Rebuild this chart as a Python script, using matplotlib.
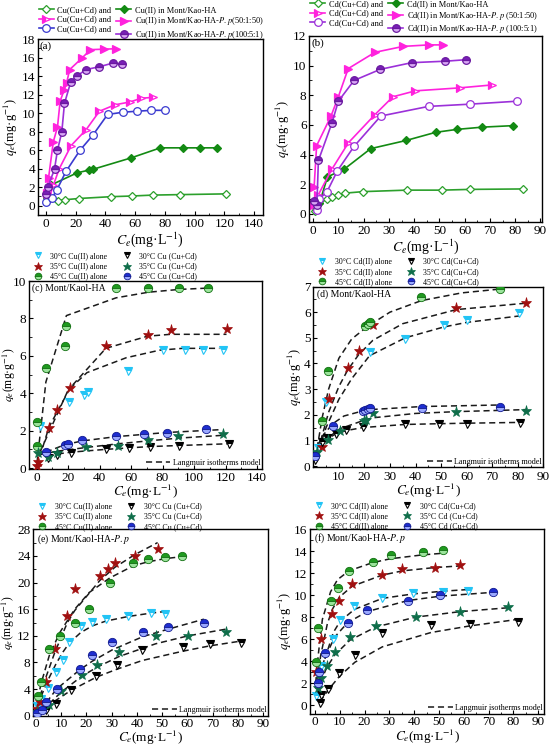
import matplotlib
matplotlib.use('Agg')
import matplotlib.pyplot as plt
from matplotlib.ticker import AutoMinorLocator

plt.rcParams['font.family'] = ['Liberation Serif', 'DejaVu Serif']
plt.rcParams['mathtext.fontset'] = 'stix'
plt.rcParams['axes.linewidth'] = 1.0

# ---------------- Panel (a): Cu ----------------
a1_x = [1, 8, 13, 22, 44, 58, 72, 90, 121]
a1_y = [0.85, 0.55, 0.65, 0.78, 0.98, 1.05, 1.15, 1.2, 1.28]
a2_x = [1, 3.6, 21, 29, 32, 57, 77, 92, 103.5, 115]
a2_y = [1.0, 2.25, 3.55, 3.85, 3.95, 5.15, 6.25, 6.25, 6.25, 6.25]
a3_x = [1.5, 5, 9, 17, 27, 36, 46.5, 56.5, 64, 72]
a3_y = [0.5, 2.2, 4.0, 6.5, 8.2, 10.2, 10.9, 11.2, 11.6, 11.7]
a4_x = [0.5, 1.8, 5, 7.8, 9.6, 12.3, 14, 16, 24, 30, 39, 47]
a4_y = [1.4, 3.0, 6.9, 8.5, 11.3, 12.5, 13.3, 14.7, 15.9, 16.85, 16.9, 16.95]
a5_x = [0.3, 4, 7.5, 13.5, 23, 31.5, 41.5, 52, 61, 71, 80]
a5_y = [0.4, 0.8, 1.75, 3.7, 6.0, 7.6, 9.85, 10.1, 10.2, 10.3, 10.3]
a6_x = [0, 1.3, 5.8, 7.8, 10.7, 12.5, 16.8, 20.8, 27, 35.8, 45, 51]
a6_y = [1.3, 2.0, 3.95, 6.0, 7.95, 11.05, 13.4, 14.0, 14.7, 15.0, 15.4, 15.3]
a_labels = ['Cu(Cu+Cd) and', 'Cu(II) in Mont/Kao-HA',
            'Cu(Cu+Cd) and', 'Cu(II) in Mont/Kao-HA-$P.p$(50:1:50)',
            'Cu(Cu+Cd) and', 'Cu(II) in Mont/Kao-HA-$P.p$(100:5:1)']

# ---------------- Panel (b): Cd ----------------
b1_x = [0.8, 2.5, 5.4, 7.4, 9.7, 12.8, 19.9, 37, 51, 62, 83]
b1_y = [0.2, 0.72, 0.97, 1.13, 1.24, 1.4, 1.5, 1.6, 1.6, 1.65, 1.68]
b2_x = [1, 2.5, 5.7, 12.2, 22.8, 36.8, 48.5, 57, 67, 79]
b2_y = [0.4, 0.7, 2.5, 3.0, 4.4, 4.95, 5.5, 5.7, 5.85, 5.95]
b3_x = [0.5, 2.1, 7.4, 14, 24.5, 31.6, 40.5, 58, 71]
b3_y = [0.6, 1.3, 3.0, 4.8, 6.7, 7.9, 8.3, 8.5, 8.7]
b4_x = [0.4, 1.4, 7.1, 10, 13.9, 24.5, 35.7, 45.9, 51.6]
b4_y = [1.8, 4.6, 6.6, 7.9, 9.8, 10.9, 11.3, 11.4, 11.4]
b5_x = [1.5, 2.2, 5.4, 9.6, 16.2, 26.8, 45.7, 62, 80.7]
b5_y = [0.25, 1.0, 1.45, 2.9, 4.55, 6.6, 7.25, 7.4, 7.6]
b6_x = [0.4, 1.5, 2.1, 7.4, 10, 16.2, 26.6, 39, 52.4, 60.5]
b6_y = [0.85, 0.6, 3.6, 6.1, 7.6, 9.0, 9.75, 10.2, 10.3, 10.4]
b_labels = ['Cd(Cu+Cd) and', 'Cd(II) in Mont/Kao-HA',
            'Cd(Cu+Cd) and', 'Cd(II) in Mont/Kao-HA-$P.p$ (50:1:50)',
            'Cd(Cu+Cd) and', 'Cd(II) in Mont/Kao-HA-$P.p$ (100:5:1)']

# ---------------- Panel (c): Cu, Mont/Kaol-HA ----------------
c30a_x = [2.5, 20.5, 30, 32.5, 58, 80, 94, 105.5, 118]
c30a_y = [2.25, 3.55, 3.9, 4.05, 5.2, 6.3, 6.3, 6.3, 6.3]
c35a_x = [0.3, 1, 8, 13, 21.5, 44, 70.5, 85, 120.5]
c35a_y = [0.1, 0.35, 2.15, 3.1, 4.3, 6.5, 7.1, 7.4, 7.45]
c45a_x = [0.4, 0.6, 6, 18, 19, 50.5, 71, 90.5, 108.5]
c45a_y = [1.2, 2.45, 5.35, 6.5, 7.6, 9.65, 9.65, 9.6, 9.65]
c30b_x = [7.5, 13, 22, 44, 58.5, 72, 90.5, 122]
c30b_y = [0.55, 0.68, 0.78, 1.0, 1.08, 1.15, 1.2, 1.3]
c35b_x = [1, 7.4, 13, 31.5, 52, 70.5, 90, 118]
c35b_y = [0.8, 0.58, 0.78, 1.1, 1.17, 1.5, 1.7, 1.8]
c45b_x = [6, 18, 20, 29, 50.5, 68, 82.5, 107.5]
c45b_y = [0.85, 1.25, 1.3, 1.5, 1.72, 1.8, 1.9, 2.1]
# Langmuir model lines
c30a_fx = [2.5, 20, 32, 57, 78, 92.5, 116]
c30a_fy = [0.9, 4.15, 5.1, 5.9, 6.3, 6.4, 6.4]
c35a_fx = [0.3, 8, 21.5, 44, 70.5, 85, 120.5]
c35a_fy = [0.1, 2.2, 4.3, 6.4, 7.05, 7.15, 7.15]
c45a_fx = [0.4, 6, 19, 50.5, 71, 90.5, 108.5]
c45a_fy = [0.3, 4.6, 8.15, 9.1, 9.4, 9.55, 9.62]
c30b_fx = [7.5, 13, 22, 44, 72, 122]
c30b_fy = [0.6, 0.75, 0.85, 1.0, 1.15, 1.3]
c35b_fx = [1, 13, 31.5, 52, 70.5, 90, 118]
c35b_fy = [0.7, 0.9, 1.1, 1.3, 1.45, 1.6, 1.75]
c45b_fx = [6, 18, 29, 50.5, 82.5, 116]
c45b_fy = [0.85, 1.25, 1.45, 1.68, 1.9, 2.05]

# ---------------- Panel (d): Cd, Mont/Kaol-HA ----------------
d30a_x = [0.6, 1.8, 5, 22, 36, 51, 60, 80.5]
d30a_y = [0.3, 0.7, 2.5, 4.45, 4.95, 5.5, 5.7, 5.97]
d35a_x = [3.5, 6.1, 13.5, 17.8, 23.3, 56, 83.2]
d35a_y = [0.75, 2.6, 3.82, 4.47, 5.5, 6.18, 6.35]
d45a_x = [3.5, 5.8, 20.2, 21.3, 22.2, 42.3, 73]
d45a_y = [1.75, 3.7, 5.45, 5.55, 5.62, 6.6, 6.9]
d30b_x = [0.5, 3.5, 5.4, 8.7, 12.8, 19.4, 35.8, 49.3, 60, 80.7]
d30b_y = [0.22, 0.93, 1.1, 1.26, 1.39, 1.52, 1.62, 1.62, 1.65, 1.68]
d35b_x = [1.3, 5.7, 10.4, 19.7, 20.7, 23.3, 55.8, 83.2]
d35b_y = [0.55, 1.03, 1.35, 1.75, 1.8, 2.05, 2.1, 2.15]
d45b_x = [0.5, 7.6, 19.4, 20.4, 21.5, 22.3, 42.5, 73]
d45b_y = [0.38, 1.55, 2.14, 2.2, 2.23, 2.26, 2.26, 2.3]
d30a_fx = [1, 3, 5, 10, 15, 22, 36, 51, 60, 80.5]
d30a_fy = [0.3, 0.9, 1.5, 2.6, 3.4, 4.3, 5.0, 5.42, 5.6, 5.85]
d35a_fx = [2, 3.5, 6, 10, 13.5, 17.8, 23.3, 35, 56, 83.2]
d35a_fy = [0.6, 1.2, 2.1, 3.1, 3.75, 4.35, 4.9, 5.55, 6.1, 6.35]
d45a_fx = [1.5, 3.5, 6, 10, 15, 21.3, 30, 42.3, 58, 73]
d45a_fy = [0.7, 1.9, 3.0, 4.2, 4.95, 5.45, 6.0, 6.45, 6.75, 6.9]
d30b_fx = [0.5, 3.5, 5.4, 8.7, 12.8, 19.4, 35.8, 49.3, 60, 80.7]
d30b_fy = [0.25, 0.85, 1.05, 1.25, 1.38, 1.5, 1.62, 1.65, 1.67, 1.7]
d35b_fx = [1.3, 5.7, 10.4, 19.7, 23.3, 40, 55.8, 83.2]
d35b_fy = [0.55, 1.1, 1.45, 1.78, 1.88, 2.05, 2.12, 2.2]
d45b_fx = [0.5, 3, 7.6, 12, 19.4, 22.3, 42.5, 73]
d45b_fy = [0.4, 1.1, 1.65, 1.95, 2.15, 2.2, 2.32, 2.38]

# ---------------- Panel (e): Cu, Mont/Kaol-HA-P.p ----------------
e30a_x = [0.5, 2, 5, 8, 10.8, 13.2, 17.8, 22.4, 27.6, 36.5, 45.4, 51]
e30a_y = [1.5, 2.5, 4.2, 6.5, 8.4, 11.0, 13.4, 14.1, 14.6, 15.0, 15.4, 15.3]
e35a_x = [0.5, 1.8, 4.2, 7.5, 12.5, 15.4, 25.3, 28.4, 31.3, 39.2, 48.2]
e35a_y = [1.0, 2.0, 5.0, 10.0, 15.0, 19.0, 21.0, 22.0, 23.0, 24.0, 25.0]
e45a_x = [0.7, 2.2, 5.3, 9.5, 15.4, 21.1, 29.3, 38.5, 44.2, 51.3, 58]
e45a_y = [3.0, 5.0, 10.0, 12.0, 14.0, 16.0, 20.0, 23.0, 23.5, 23.9, 24.0]
e30b_x = [0.5, 4.2, 7.9, 13.9, 24, 32.2, 42.2, 58.3, 69, 81]
e30b_y = [0.3, 0.9, 1.8, 3.8, 6.0, 7.6, 9.9, 10.3, 10.8, 10.9]
e35b_x = [0.5, 5.3, 9.9, 18.1, 24.3, 33, 47.4, 60.3, 75.2]
e35b_y = [0.5, 1.6, 3.7, 6.1, 7.6, 9.5, 11.9, 12.0, 12.5]
e45b_x = [0.5, 2.5, 4.2, 8.2, 17.4, 22.4, 30.3, 42.5, 52.4, 66.5]
e45b_y = [0.35, 0.85, 2.0, 4.0, 7.05, 9.05, 11.05, 12.55, 13.35, 13.85]
e30a_fx = [0.5, 5, 8, 10.8, 13.2, 17.8, 22.4, 27.6, 36.5, 45.4, 51]
e30a_fy = [1.5, 5.5, 7.8, 9.6, 10.9, 12.5, 13.5, 14.2, 14.9, 15.4, 15.65]
e35a_fx = [0.5, 4.2, 7.5, 12.5, 15.4, 25.3, 31.3, 39.2, 48.2]
e35a_fy = [1.5, 6.0, 9.5, 14.0, 15.8, 20.3, 22.3, 24.2, 26.0]
e45a_fx = [0.7, 2.2, 5.3, 9.5, 15.4, 21.1, 29.3, 38.5, 44.2, 51.3, 58]
e45a_fy = [2.5, 5.0, 9.0, 12.5, 16.0, 18.5, 20.7, 22.5, 23.1, 23.6, 23.9]
e30b_fx = [4.2, 7.9, 13.9, 24, 32.2, 42.2, 58.3, 69, 81]
e30b_fy = [1.2, 2.3, 3.8, 5.8, 7.0, 8.3, 9.7, 10.5, 11.2]
e35b_fx = [5.3, 9.9, 18.1, 24.3, 33, 47.4, 60.3, 75.2]
e35b_fy = [1.8, 3.5, 5.9, 7.3, 8.9, 10.8, 12.0, 13.0]
e45b_fx = [4.2, 8.2, 17.4, 22.4, 30.3, 42.5, 52.4, 66.5]
e45b_fy = [2.0, 4.0, 6.9, 8.2, 9.9, 11.9, 13.0, 14.5]

# ---------------- Panel (f): Cd, Mont/Kaol-HA-P.p ----------------
f30a_x = [0.4, 2.3, 7.4, 10.1, 15.9, 27.2, 39.4, 51.5, 61.6]
f30a_y = [0.8, 3.6, 6.0, 7.7, 9.05, 9.75, 10.15, 10.25, 10.4]
f35a_x = [0.4, 2.3, 7, 9.8, 15, 26.9, 35.3, 48.4, 58.7]
f35a_y = [3.0, 6.0, 8.3, 9.5, 11.0, 11.8, 12.4, 12.5, 12.7]
f45a_x = [0.3, 1.3, 6.3, 9.1, 13.7, 23.3, 30.5, 43.4, 51.7]
f45a_y = [3.9, 7.0, 9.5, 10.6, 12.2, 13.0, 13.6, 13.9, 14.1]
f30b_x = [2, 2.4, 5.4, 9.8, 16.1, 27.2, 46.8, 62.5, 82]
f30b_y = [0.2, 0.95, 1.5, 2.9, 4.6, 6.6, 7.25, 7.4, 7.6]
f35b_x = [1.1, 2.3, 4.7, 8.1, 14.1, 24.5, 40.7, 58.7, 78]
f35b_y = [1.6, 2.5, 3.6, 4.8, 6.2, 7.2, 8.0, 8.5, 8.9]
f45b_x = [1.1, 1.6, 4, 13.2, 21.1, 37.4, 50.5, 71.9]
f45b_y = [2.0, 3.0, 4.7, 7.5, 8.6, 9.5, 10.0, 10.3]
f30a_fx = [0.4, 2.3, 7.4, 10.1, 15.9, 27.2, 39.4, 51.5, 61.6]
f30a_fy = [0.7, 3.0, 6.6, 7.6, 8.7, 9.7, 10.1, 10.35, 10.5]
f35a_fx = [0.4, 2.3, 5, 7, 9.8, 15, 26.9, 35.3, 48.4, 58.7]
f35a_fy = [1.5, 4.5, 7.4, 8.7, 9.8, 10.8, 11.8, 12.2, 12.5, 12.65]
f45a_fx = [0.3, 1.3, 3, 6.3, 9.1, 13.7, 23.3, 30.5, 43.4, 51.7]
f45a_fy = [2.0, 4.5, 7.8, 10.3, 11.4, 12.2, 12.95, 13.3, 13.65, 13.8]
f30b_fx = [2, 5.4, 9.8, 16.1, 27.2, 46.8, 62.5, 82]
f30b_fy = [0.3, 1.4, 2.6, 3.9, 5.3, 6.6, 7.2, 7.8]
f35b_fx = [1.1, 2.3, 4.7, 8.1, 14.1, 24.5, 40.7, 58.7, 78]
f35b_fy = [1.2, 2.1, 3.4, 4.6, 5.9, 7.1, 8.0, 8.5, 8.85]
f45b_fx = [1.1, 1.6, 4, 8, 13.2, 21.1, 37.4, 50.5, 71.9]
f45b_fy = [1.8, 2.5, 4.3, 6.2, 7.5, 8.5, 9.5, 9.9, 10.25]

cu_labels = ['30°C Cu(II) alone', '35°C Cu(II) alone', '45°C Cu(II) alone',
             '30°C Cu (Cu+Cd)', '35°C Cu (Cu+Cd)', '45°C Cu (Cu+Cd)']
cd_labels_d = ['30°C Cd(II) alone', '35°C Cd(II) alone', '45°C Cd(II) alone',
               '30°C Cd(Cu+Cd)', '35°C Cd(Cu+Cd)', '45°C Cd(Cu+Cd)']
cd_labels_f = ['30°C Cd(II) alone', '35°C Cd(II) alone', '45°C Cd(II) alone',
               '30°C Cd(Cu+Cd)', '35°C Cd (Cu+Cd)', '45°C Cd (Cu+Cd)']

W, H = 550, 747
fig = plt.figure(figsize=(W / 100, H / 100), dpi=100)


def add_ax(l, r, t, b):
    return fig.add_axes([l / W, 1 - b / H, (r - l) / W, (b - t) / H])


TICK_FS = 9.5
AB_LEG_FS = 6.0
CF_LEG_FS = 5.7

GREEN_O = '#2ca02c'
GREEN_F = '#138a13'
MAG = '#ff22dd'
BLUE = '#3a3ad0'
PURPLE = '#9b30d9'

ab_styles = [
    dict(color=GREEN_O, marker='D', mfc='white', mec=GREEN_O, ms=4.5),
    dict(color=GREEN_F, marker='D', mfc=GREEN_F, mec=GREEN_F, ms=4.5),
    dict(color=MAG, marker='>', mfc=MAG, mec=MAG, fillstyle='left', mfcalt='white', ms=5.5),
    dict(color=MAG, marker='>', mfc=MAG, mec=MAG, ms=5.5),
    dict(color=BLUE, marker='o', mfc='white', mec=BLUE, ms=5.5),
    dict(color=PURPLE, marker='o', mfc='#7a1fb8', mfcalt='#d9a8f5', fillstyle='top', mec='#6a1aa0', ms=5.5),
]


def style_axis(ax, xlim, ylim, xticks, yticks, xpad=2.5):
    ax.set_xlim(*xlim)
    ax.set_ylim(*ylim)
    ax.set_xticks(xticks)
    ax.set_yticks(yticks)
    ax.xaxis.set_minor_locator(AutoMinorLocator(2))
    ax.yaxis.set_minor_locator(AutoMinorLocator(2))
    ax.tick_params(which='major', direction='in', labelsize=TICK_FS, length=3, width=0.8)
    ax.tick_params(axis='x', which='major', pad=xpad)
    ax.tick_params(axis='y', which='major', pad=2)
    ax.tick_params(which='minor', direction='in', length=1.8, width=0.6)


def ab_panel(ax, series, labels, anchor_y=1.0, b_style_override=None):
    handles = []
    for i, (x, y) in enumerate(series):
        st = dict(ab_styles[i])
        if b_style_override and i in b_style_override:
            st.update(b_style_override[i])
        h, = ax.plot(x, y, lw=1.2, mew=0.9, **st)
        handles.append(h)
    order = [0, 2, 4, 1, 3, 5]
    leg = ax.legend([handles[k] for k in order], [labels[k] for k in order],
                    loc='lower left', bbox_to_anchor=(0.0, anchor_y), ncol=2, frameon=False,
                    fontsize=AB_LEG_FS, borderaxespad=0.0, borderpad=0.1,
                    handlelength=1.8, handletextpad=0.45, columnspacing=0.6,
                    labelspacing=0.2)
    return leg


# ---- (a)
axa = add_ax(37.7, 263, 39, 215)
ab_panel(axa, [(a1_x, a1_y), (a2_x, a2_y), (a3_x, a3_y), (a4_x, a4_y), (a5_x, a5_y), (a6_x, a6_y)], a_labels,
         anchor_y=0.983)
style_axis(axa, (-5.5, 146), (-1, 18), range(0, 141, 20), range(0, 19, 2))
axa.set_xlabel(r'$C_e$(mg·L$^{-1}$)', fontsize=10, labelpad=0)
axa.set_ylabel(r'$q_e$(mg·g$^{-1}$)', fontsize=9, labelpad=1)
axa.text(0.01, 0.985, '(a)', transform=axa.transAxes, fontsize=8, va='top', ha='left')

# ---- (b)
axb = add_ax(309.3, 541.7, 36, 222)
ab_panel(axb, [(b1_x, b1_y), (b2_x, b2_y), (b3_x, b3_y), (b4_x, b4_y), (b5_x, b5_y), (b6_x, b6_y)], b_labels,
         anchor_y=1.0, b_style_override={4: dict(color=PURPLE, mec=PURPLE)})
style_axis(axb, (-1.5, 90.5), (-0.55, 12), range(0, 91, 10), range(0, 13, 2))
axb.set_xlabel(r'$C_e$(mg·L$^{-1}$)', fontsize=10, labelpad=0)
axb.set_ylabel(r'$q_e$(mg·g$^{-1}$)', fontsize=9, labelpad=1)
axb.text(0.01, 0.985, '(b)', transform=axb.transAxes, fontsize=8, va='top', ha='left')

# ---- styles for c-f
LBLUE = '#22c4f5'
DRED = '#a01010'
GSPH = '#1f9a1f'
TEAL = '#0f6e4a'
BSPH = '#1e2ed0'
cf_styles = [
    dict(marker='v', mfc=LBLUE, mfcalt='white', fillstyle='top', mec=LBLUE, ms=6, mew=0.8),
    dict(marker='*', mfc=DRED, mec=DRED, ms=8, mew=0.5),
    dict(marker='o', mfc=GSPH, mfcalt='#9be39b', fillstyle='top', mec='#127012', ms=6, mew=0.6),
    dict(marker='v', mfc='black', mfcalt='white', fillstyle='top', mec='black', ms=6, mew=0.8),
    dict(marker='*', mfc=TEAL, mec=TEAL, ms=8, mew=0.5),
    dict(marker='o', mfc=BSPH, mfcalt='#9aa8ff', fillstyle='top', mec='#111a90', ms=6, mew=0.6),
]


def cf_panel(ax, pts, fits, labels, title, xlabelpad, ylabelpad, ylabel_fs, xlabel_fs=10, leg_y=1.0):
    for fx, fy in fits:
        ax.plot(fx, fy, ls=(0, (4, 2.5)), color='#1a1a1a', lw=1.1, zorder=2)
    handles = []
    for i, (x, y) in enumerate(pts):
        h, = ax.plot(x, y, ls='none', zorder=3, **cf_styles[i])
        handles.append(h)
    leg = ax.legend(handles, labels, loc='lower left', bbox_to_anchor=(0.015, leg_y), ncol=2,
                    frameon=False, fontsize=CF_LEG_FS, borderaxespad=0.0, borderpad=0.05,
                    handlelength=1.2, handletextpad=1.0, columnspacing=1.8, labelspacing=0.28,
                    markerscale=0.8)
    ax.add_artist(leg)
    lh, = ax.plot([], [], ls=(0, (4, 2.5)), color='#1a1a1a', lw=1.1)
    ax.legend([lh], ['Langmuir isotherms model'], loc='lower right', frameon=False,
              fontsize=5.9, borderaxespad=0.1, borderpad=0.1, handlelength=3.0,
              handletextpad=0.3)
    ax.text(0.015, 0.985, title, transform=ax.transAxes, fontsize=7, va='top', ha='left')
    ax.set_xlabel(r'$C_e$(mg·L$^{-1}$)', fontsize=xlabel_fs, labelpad=xlabelpad)
    ax.set_ylabel(r'$q_e$(mg·g$^{-1}$)', fontsize=ylabel_fs, labelpad=ylabelpad)


# ---- (c)
axc = add_ax(29, 262, 281, 469)
cf_panel(axc,
         [(c30a_x, c30a_y), (c35a_x, c35a_y), (c45a_x, c45a_y), (c30b_x, c30b_y), (c35b_x, c35b_y), (c45b_x, c45b_y)],
         [(c30a_fx, c30a_fy), (c35a_fx, c35a_fy), (c45a_fx, c45a_fy), (c30b_fx, c30b_fy), (c35b_fx, c35b_fy), (c45b_fx, c45b_fy)],
         cu_labels, '(c) Mont/Kaol-HA', -0.8, -3.5, 8.5, 9.5)
style_axis(axc, (-4.7, 143), (-0.05, 10), range(0, 141, 20), range(0, 11, 2))

# ---- (d)
axd = add_ax(313.3, 543.3, 286.5, 467.3)
cf_panel(axd,
         [(d30a_x, d30a_y), (d35a_x, d35a_y), (d45a_x, d45a_y), (d30b_x, d30b_y), (d35b_x, d35b_y), (d45b_x, d45b_y)],
         [(d30a_fx, d30a_fy), (d35a_fx, d35a_fy), (d45a_fx, d45a_fy), (d30b_fx, d30b_fy), (d35b_fx, d35b_fy), (d45b_fx, d45b_fy)],
         cd_labels_d, '(d) Mont/Kaol-HA', -0.8, 0, 9, 9.5)
style_axis(axd, (0, 90), (-0.05, 7), range(10, 91, 10), range(0, 8, 1))

# ---- (e)
axe = add_ax(33.3, 268.3, 529.3, 715.7)
cf_panel(axe,
         [(e30a_x, e30a_y), (e35a_x, e35a_y), (e45a_x, e45a_y), (e30b_x, e30b_y), (e35b_x, e35b_y), (e45b_x, e45b_y)],
         [(e30a_fx, e30a_fy), (e35a_fx, e35a_fy), (e45a_fx, e45a_fy), (e30b_fx, e30b_fy), (e35b_fx, e35b_fy), (e45b_fx, e45b_fy)],
         cu_labels, '(e) Mont/Kaol-HA-$P.p$', -0.3, 0.3, 8.5, 9.5, leg_y=0.99)
style_axis(axe, (-1, 92), (0, 28), range(0, 91, 10), range(0, 29, 4), xpad=1.5)

# ---- (f)
axf = add_ax(310, 544.3, 529, 714)
cf_panel(axf,
         [(f30a_x, f30a_y), (f35a_x, f35a_y), (f45a_x, f45a_y), (f30b_x, f30b_y), (f35b_x, f35b_y), (f45b_x, f45b_y)],
         [(f30a_fx, f30a_fy), (f35a_fx, f35a_fy), (f45a_fx, f45a_fy), (f30b_fx, f30b_fy), (f35b_fx, f35b_fy), (f45b_fx, f45b_fy)],
         cd_labels_f, '(f) Mont/Kaol-HA-$P.p$', -0.3, 0, 9, 9.5, leg_y=0.99)
style_axis(axf, (-2, 92.5), (-0.8, 16), range(0, 91, 10), range(0, 17, 2), xpad=1.5)

fig.savefig('out.png', dpi=100, facecolor='white')
